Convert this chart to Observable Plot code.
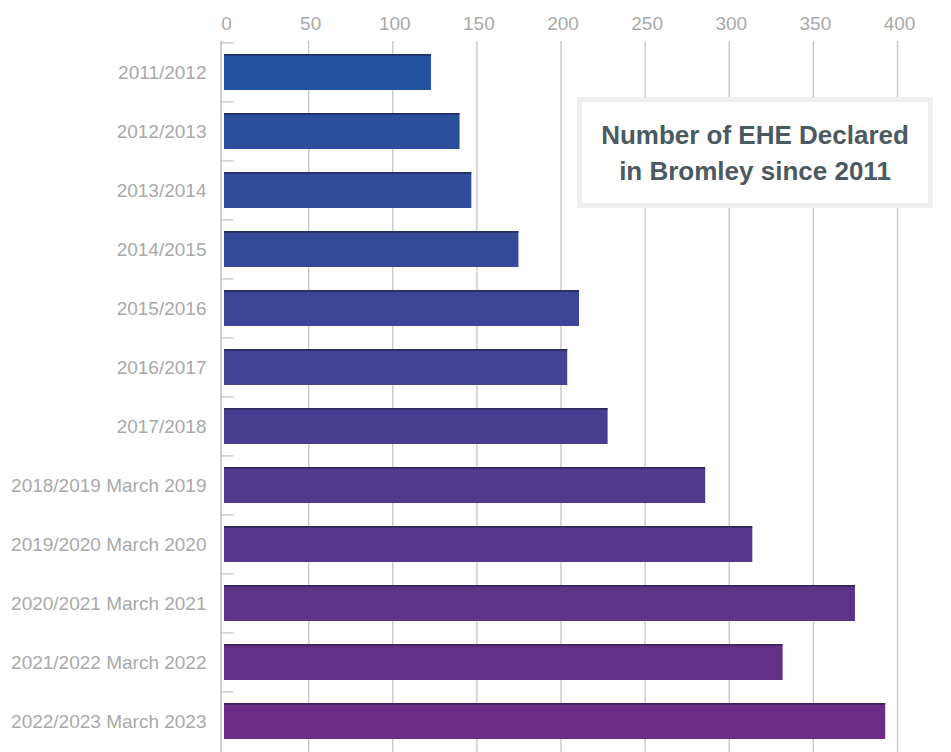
<!DOCTYPE html>
<html>
<head>
<meta charset="utf-8">
<script src="https://cdn.jsdelivr.net/npm/d3@7"></script>
<script src="https://cdn.jsdelivr.net/npm/@observablehq/plot@0.6"></script>
<style>
  html, body { margin: 0; padding: 0; background: #fff; overflow: hidden; }
  #wrap { position: relative; width: 951px; height: 752px; }
  #title {
    position: absolute; left: 577px; top: 97px; width: 356px; height: 111px;
    box-sizing: border-box; border: 5px solid #efefef; background: #fff;
    display: flex; align-items: center; justify-content: center; text-align: center;
    font-family: "Liberation Sans", Arial, sans-serif; font-weight: bold;
    font-size: 26px; line-height: 36px; color: #4b5960;
  }
</style>
</head>
<body>
<div id="wrap"></div>
<script>
const periods = [
  "2011/2012", "2012/2013", "2013/2014", "2014/2015", "2015/2016", "2016/2017",
  "2017/2018", "2018/2019 March 2019", "2019/2020 March 2020", "2020/2021 March 2021",
  "2021/2022 March 2022", "2022/2023 March 2023"
];
const counts = [123, 140, 147, 175, 211, 204, 228, 286, 314, 375, 332, 393];
const xTicks = [0, 50, 100, 150, 200, 250, 300, 350, 400];
const titleText = ["Number of EHE Declared", "in Bromley since 2011"];

const data = periods.map((p, i) => ({period: p, count: counts[i]}));
const barColors = d3.quantize(d3.interpolateRgb("#22529f", "#6a2c85"), periods.length);

const chart = Plot.plot({
  width: 951,
  height: 752,
  marginTop: 41,
  marginBottom: 0,
  marginLeft: 224,
  marginRight: 54,
  style: {fontFamily: "'Liberation Sans', Arial, sans-serif", color: "#a9a9a9", background: "#fff"},
  x: {domain: [0, 400]},
  y: {domain: periods, paddingInner: 0.39, paddingOuter: 0.195},
  color: {type: "ordinal", domain: periods, range: barColors},
  marks: [
    Plot.gridX(xTicks.filter(t => t > 0), {stroke: "#c9c9c9", strokeOpacity: 1, strokeWidth: 1.4}),
    Plot.ruleX([0], {dx: -3.5, stroke: "#b3b3b3", strokeWidth: 1.2}),
    Plot.ruleY(periods, {y: d => d, x1: -2, x2: 5.5, dy: -29.6, stroke: "#c0c0c0", strokeWidth: 1.2}),
    Plot.barX(data, {x: "count", y: "period", fill: "period"}),
    Plot.barX(data, {x: "count", y: "period", fill: "#1c1c3a", fillOpacity: 0.6, insetBottom: 34.3}),
    Plot.axisX({anchor: "top", ticks: xTicks, tickSize: 0, tickPadding: 12, fontSize: 19, dx: 2, label: null}),
    Plot.axisY({tickSize: 0, tickPadding: 18, fontSize: 19, label: null})
  ]
});

const wrap = document.getElementById("wrap");
wrap.appendChild(chart);
const box = document.createElement("div");
box.id = "title";
box.innerHTML = titleText.join("<br>");
wrap.appendChild(box);
</script>
</body>
</html>
